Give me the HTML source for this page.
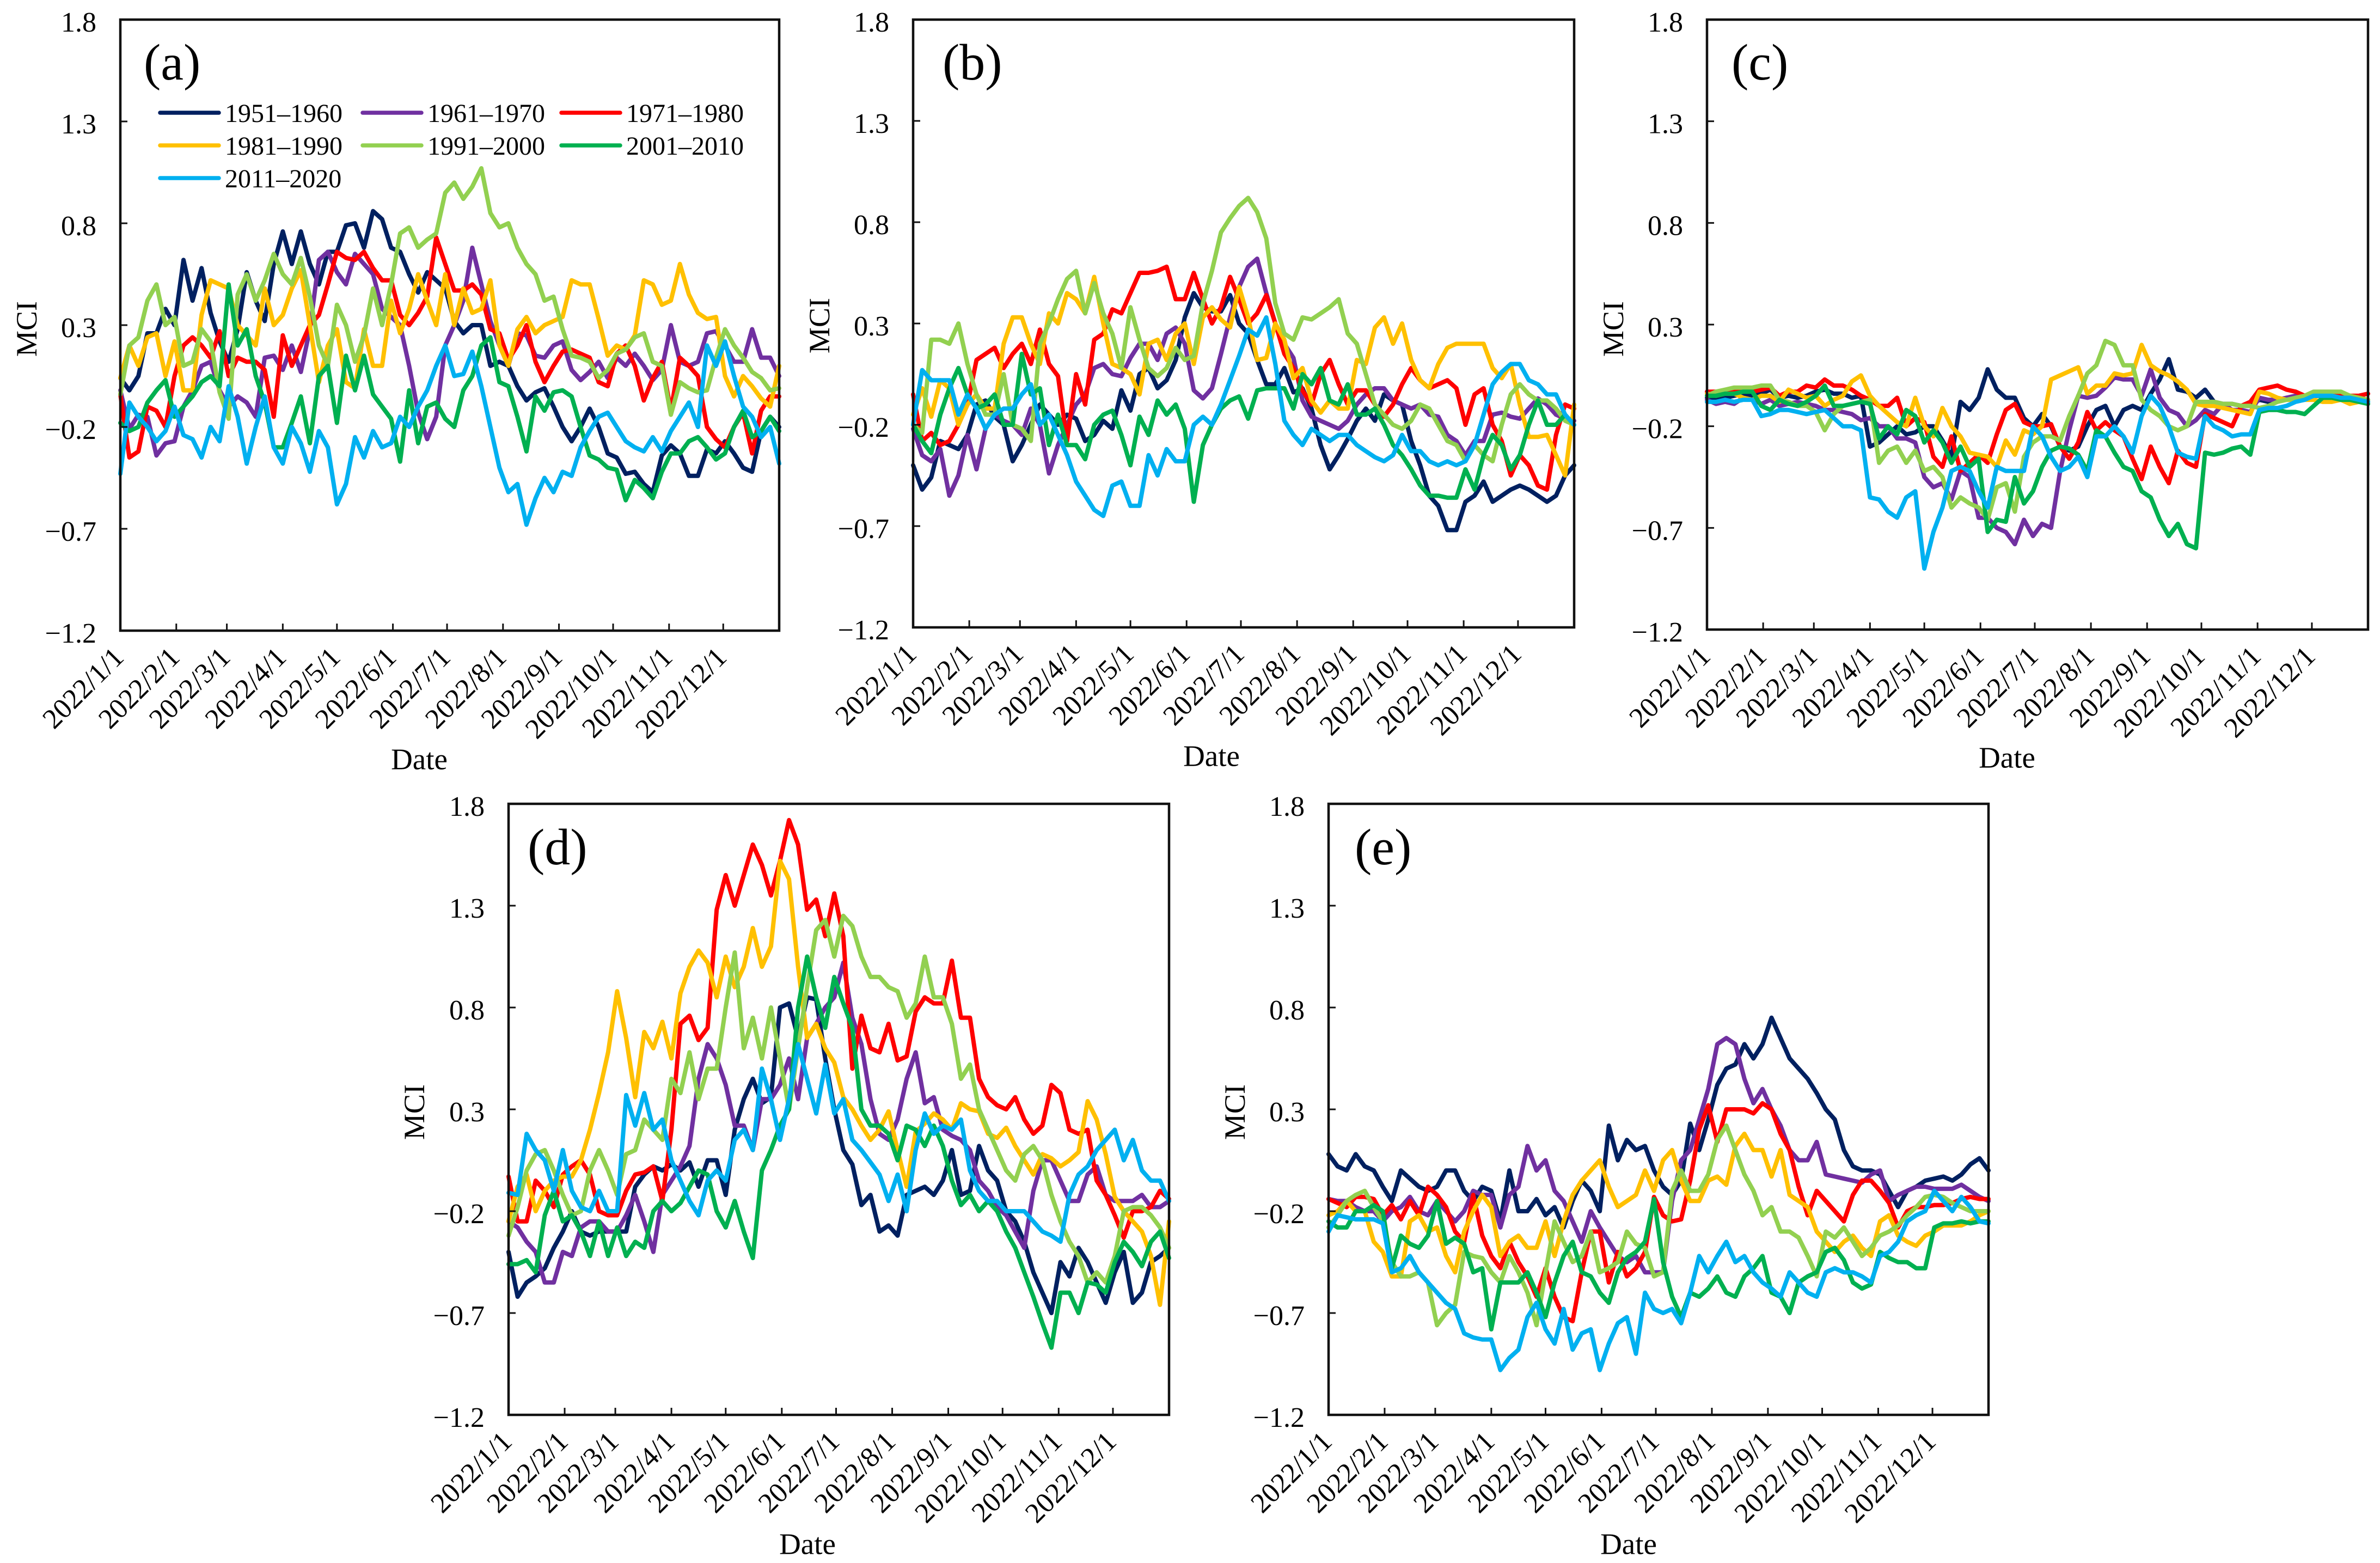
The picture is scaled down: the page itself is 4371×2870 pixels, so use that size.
<!DOCTYPE html>
<html lang="en">
<head>
<meta charset="utf-8">
<title>MCI by decade, panels (a) to (e)</title>
<style>
html,body{margin:0;padding:0;background:#fff;}
svg{display:block;}
text{font-family:"Liberation Serif","Times New Roman",serif;fill:#000;}
</style>
</head>
<body>
<svg id="figure" xmlns="http://www.w3.org/2000/svg" width="4371" height="2870" viewBox="0 0 4371 2870"></svg>
<script>
// Categories and tick labels
const decades = ["1951–1960","1961–1970","1971–1980","1981–1990","1991–2000","2001–2010","2011–2020"];
const seriesColors = ["#002060","#7030A0","#FF0000","#FFC000","#92D050","#00B050","#00B0F0"];
const monthLabels = ["2022/1/1","2022/2/1","2022/3/1","2022/4/1","2022/5/1","2022/6/1","2022/7/1","2022/8/1","2022/9/1","2022/10/1","2022/11/1","2022/12/1"];
const yTickValues = [-1.2,-0.7,-0.2,0.3,0.8,1.3,1.8];
const yTickLabels = ["−1.2","−0.7","−0.2","0.3","0.8","1.3","1.8"];
const DAYS_IN_YEAR = 365;

// Panel (a), values read every 5 days
const a1951 = [.04,-.02,.05,.26,.26,.38,.3,.62,.42,.58,.36,.22,.12,.28,.56,.42,.32,.6,.76,.6,.76,.6,.5,.66,.66,.79,.8,.68,.86,.82,.68,.66,.55,.46,.56,.52,.48,.32,.26,.3,.3,.1,.12,.1,0,-.07,-.03,-.01,-.1,-.2,-.27,-.2,-.11,-.2,-.33,-.35,-.43,-.42,-.48,-.52,-.34,-.29,-.33,-.44,-.44,-.31,-.33,-.27,-.33,-.4,-.42,-.22,-.15,-.2];
const a1961 = [-.02,-.21,-.14,-.15,-.34,-.28,-.27,-.1,-.02,.1,.12,-.02,-.1,-.05,-.08,-.15,.14,.15,.08,.2,.07,.28,.62,.66,.56,.5,.65,.6,.55,.38,.34,.3,.1,-.13,-.26,-.15,.2,.3,.42,.68,.5,.32,.2,.1,.26,.25,.15,.14,.2,.22,.08,.03,.07,.12,.04,.14,.1,.16,.1,.03,.08,.3,.12,.1,.12,.26,.27,.2,.12,.12,.28,.14,.14,.05];
const a1971 = [-.04,-.35,-.32,-.1,-.12,-.2,.05,.2,.24,.2,.14,.27,.05,.14,.12,.12,.08,-.15,.25,.1,.2,.3,.35,.5,.66,.63,.62,.66,.58,.52,.52,.35,.3,.36,.44,.73,.6,.47,.47,.5,.45,.28,.26,.13,.2,.3,.12,.02,.1,.17,.18,.16,.14,.02,0,.16,.2,.1,-.07,.04,.12,-.12,.14,.1,.05,-.2,-.26,-.3,-.2,-.13,-.33,-.12,-.05,-.05];
const a1981 = [.04,.2,.1,.24,.26,.05,.22,-.02,-.02,.35,.52,.5,.48,.3,.25,.2,.48,.3,.35,.48,.57,.3,.02,.2,.28,.02,-.01,.28,.1,.1,.42,.26,.38,.55,.42,.3,.55,.3,.48,.36,.38,.52,.2,.1,.28,.34,.26,.3,.32,.34,.52,.5,.5,.33,.15,.2,.18,.25,.52,.5,.4,.42,.6,.45,.36,.33,.34,.05,-.05,.05,0,-.06,-.1,.1];
const a1991 = [-.04,.2,.24,.42,.5,.3,.34,.1,.12,.28,.22,-.03,-.16,.45,.55,.42,.52,.65,.55,.5,.63,.44,.2,.1,.4,.3,.12,.25,.48,.3,.5,.75,.78,.68,.72,.75,.95,1,.92,.98,1.07,.85,.78,.8,.68,.6,.55,.42,.44,.28,.15,.14,.12,.04,.08,.16,.18,.24,.26,.12,.1,-.14,.02,-.01,-.03,-.02,.14,.28,.2,.14,.07,.04,-.02,-.01];
const a2001 = [-.18,-.22,-.2,-.08,-.02,.03,-.15,-.1,-.05,.02,.05,0,.5,.2,.28,.05,-.08,-.3,-.3,-.18,-.05,-.28,.05,.1,-.18,.15,-.02,.15,-.04,-.1,-.16,-.37,-.02,-.28,-.1,-.08,-.16,-.2,-.02,.05,.2,.24,.02,0,-.15,-.32,-.05,-.12,-.03,-.02,-.05,-.2,-.34,-.36,-.4,-.41,-.56,-.46,-.5,-.55,-.42,-.33,-.33,-.27,-.25,-.3,-.36,-.33,-.2,-.12,-.25,-.22,-.15,-.22];
const a2011 = [-.43,-.08,-.15,-.2,-.27,-.22,-.1,-.24,-.26,-.35,-.2,-.27,0,-.15,-.38,-.2,-.05,-.3,-.38,-.2,-.28,-.42,-.22,-.3,-.58,-.48,-.25,-.35,-.22,-.3,-.28,-.15,-.2,-.1,-.02,.1,.2,.05,.06,.17,0,-.2,-.4,-.52,-.48,-.68,-.55,-.45,-.52,-.42,-.44,-.3,-.22,-.15,-.13,-.2,-.27,-.3,-.32,-.25,-.32,-.22,-.15,-.08,-.2,.2,.1,.22,.05,-.1,-.15,-.25,-.2,-.38];

// Panel (b)
const b1951 = [-.4,-.52,-.46,-.28,-.3,-.32,-.25,-.1,-.08,-.16,-.2,-.38,-.3,-.2,-.1,-.15,-.2,-.15,-.17,-.28,-.25,-.18,-.22,-.03,-.13,.05,.08,-.02,.02,.12,.33,.45,.38,.36,.36,.44,.3,.25,.12,0,0,.08,-.04,-.02,-.12,-.3,-.42,-.35,-.27,-.18,-.12,-.18,-.05,-.08,-.1,-.28,-.4,-.55,-.6,-.72,-.72,-.58,-.55,-.48,-.58,-.55,-.52,-.5,-.52,-.55,-.58,-.55,-.45,-.4];
const b1961 = [-.22,-.35,-.38,-.32,-.55,-.45,-.25,-.42,-.22,-.15,-.18,-.2,-.25,-.12,-.2,-.44,-.3,-.2,-.1,-.05,.08,.1,.05,.04,.13,.2,.2,.12,.25,.28,.2,-.03,-.07,-.02,.15,.33,.48,.58,.62,.45,.3,.2,.13,-.08,-.16,-.18,-.2,-.22,-.18,-.1,-.05,-.02,-.02,-.08,-.1,-.12,-.1,-.15,-.16,-.25,-.28,-.35,-.28,-.28,-.15,-.14,-.16,-.17,-.12,-.07,-.1,-.15,-.17,-.18];
const b1971 = [-.05,-.28,-.24,-.3,-.28,-.2,-.1,.12,.15,.18,.08,.15,.2,.1,.27,.1,.04,-.28,.05,-.1,.22,.25,.37,.35,.45,.55,.55,.56,.58,.42,.42,.55,.42,.3,.38,.53,.42,.3,.35,.44,.3,.15,.08,-.03,-.1,.05,.12,0,-.1,-.03,-.03,-.1,-.16,-.1,0,.08,.02,-.02,0,.02,-.02,-.2,-.05,-.02,-.2,-.28,-.45,-.35,-.4,-.5,-.52,-.25,-.1,-.12];
const b1981 = [-.15,-.02,-.16,.02,-.02,-.2,-.1,-.05,-.12,-.12,.2,.33,.33,.2,.1,.35,.3,.45,.42,.35,.53,.3,.1,.08,.05,-.05,.2,.22,.12,.25,.3,.1,.33,.38,.32,.28,.48,.33,.12,.13,.3,.22,.03,.08,-.08,-.14,-.08,-.12,-.12,.12,.1,.28,.33,.2,.3,.12,.02,-.02,.1,.18,.2,.2,.2,.2,.08,.03,.1,-.1,-.26,-.26,-.25,-.35,-.45,-.1];
const b1991 = [-.2,-.24,.22,.22,.2,.3,.1,-.05,-.15,-.15,.05,-.2,-.22,-.28,.2,.3,.42,.52,.56,.35,.5,.35,.25,.08,.38,.22,.08,.04,.08,.18,.12,.14,.4,.56,.75,.82,.88,.92,.85,.72,.4,.25,.22,.33,.32,.35,.38,.42,.25,.2,.05,-.1,-.15,-.2,-.22,-.18,-.1,-.12,-.2,-.28,-.3,-.38,-.3,-.35,-.38,-.2,-.05,0,-.05,-.08,-.08,-.12,-.18,-.2];
const b2001 = [-.2,-.28,-.34,-.15,-.02,.08,-.05,-.12,-.1,-.05,-.2,-.2,.15,-.05,-.02,-.3,-.15,-.3,-.3,-.37,-.2,-.15,-.13,-.25,-.4,-.16,-.25,-.08,-.15,-.1,-.22,-.58,-.3,-.2,-.12,-.08,-.06,-.17,-.03,-.02,-.02,-.02,-.12,.05,0,.08,-.08,-.1,0,-.15,-.15,-.12,-.2,-.3,-.35,-.42,-.5,-.55,-.55,-.56,-.56,-.42,-.52,-.35,-.25,-.3,-.42,-.35,-.2,-.08,-.2,-.2,-.15,-.2];
const b2011 = [-.2,.07,.02,.02,.02,-.15,-.05,-.12,-.22,-.15,-.12,-.12,-.05,0,-.2,-.15,-.25,-.35,-.48,-.55,-.62,-.65,-.5,-.48,-.6,-.6,-.35,-.45,-.32,-.38,-.38,-.2,-.16,-.2,-.1,.02,.14,.27,.24,.33,.1,-.18,-.25,-.3,-.22,-.25,-.28,-.25,-.25,-.3,-.33,-.36,-.38,-.35,-.25,-.33,-.33,-.38,-.4,-.38,-.4,-.38,-.3,-.15,0,.06,.1,.1,.02,0,-.05,-.05,-.15,-.2];

// Panel (c)
const c1951 = [-.06,-.07,-.06,-.05,-.04,-.05,-.04,-.02,-.06,-.05,-.06,-.05,-.03,-.02,-.04,-.04,-.06,-.05,-.3,-.28,-.24,-.2,-.24,-.23,-.2,-.2,-.27,-.35,-.08,-.12,-.06,.08,-.02,-.06,-.06,-.16,-.2,-.14,-.2,-.3,-.32,-.3,-.2,-.12,-.1,-.2,-.12,-.1,-.12,-.04,.03,.13,-.02,-.03,-.06,-.02,-.08,-.09,-.09,-.1,-.1,-.07,-.08,-.08,-.06,-.06,-.05,-.05,-.05,-.06,-.06,-.07,-.07,-.07];
const c1961 = [-.07,-.09,-.08,-.09,-.06,-.07,-.09,-.07,-.1,-.09,-.08,-.09,-.1,-.12,-.12,-.13,-.14,-.17,-.16,-.2,-.2,-.26,-.26,-.28,-.45,-.5,-.48,-.56,-.42,-.45,-.65,-.65,-.7,-.72,-.78,-.66,-.74,-.68,-.7,-.42,-.22,-.05,-.06,-.05,-.01,.04,.03,.03,-.05,.08,-.06,-.12,-.14,-.2,-.17,-.12,-.14,-.09,-.12,-.12,-.13,-.06,-.07,-.07,-.06,-.05,-.06,-.05,-.05,-.06,-.07,-.07,-.08,-.08];
const c1971 = [-.03,-.03,-.03,-.02,-.02,-.03,-.02,-.01,-.05,-.03,-.03,0,-.01,.03,0,0,-.02,-.05,-.07,-.1,-.1,-.06,-.2,-.16,-.18,-.35,-.4,-.25,-.42,-.38,-.34,-.38,-.24,-.12,-.09,-.18,-.2,-.2,-.19,-.3,-.36,-.28,-.13,-.22,-.18,-.22,-.25,-.36,-.46,-.3,-.4,-.48,-.32,-.38,-.4,-.14,-.16,-.18,-.2,-.1,-.08,-.02,-.01,0,-.02,-.03,-.05,-.05,-.05,-.05,-.04,-.05,-.05,-.04];
const c1981 = [-.04,-.05,-.04,-.04,-.06,-.07,-.05,-.05,-.08,-.02,-.04,-.06,-.05,-.1,-.07,-.05,.02,.05,-.05,-.1,-.14,-.18,-.2,-.06,-.2,-.25,-.11,-.2,-.25,-.33,-.34,-.35,-.4,-.27,-.34,-.22,-.24,-.2,.03,.05,.07,.09,-.04,0,0,.06,.05,.06,.2,.1,.07,.05,.02,-.02,-.09,-.1,-.1,-.11,-.12,-.13,-.14,-.03,-.04,-.06,-.07,-.07,-.07,-.07,-.08,-.08,-.07,-.09,-.08,-.08];
const c1991 = [-.05,-.03,-.02,-.01,-.01,-.01,0,0,-.07,-.08,-.1,-.1,-.13,-.22,-.14,-.1,-.09,-.08,-.07,-.38,-.32,-.3,-.38,-.32,-.42,-.4,-.45,-.6,-.55,-.58,-.6,-.66,-.5,-.48,-.62,-.35,-.28,-.25,-.25,-.27,-.15,-.05,.06,.1,.22,.2,.1,.1,-.07,-.12,-.15,-.2,-.22,-.2,-.08,-.08,-.08,-.09,-.09,-.1,-.1,-.11,-.1,-.08,-.07,-.06,-.05,-.03,-.03,-.03,-.03,-.05,-.06,-.07];
const c2001 = [-.05,-.05,-.04,-.04,-.03,-.03,-.1,-.12,-.07,-.09,-.1,-.08,-.05,0,-.1,-.1,-.09,-.08,-.09,-.26,-.2,-.24,-.12,-.15,-.28,-.22,-.28,-.38,-.3,-.4,-.36,-.72,-.66,-.67,-.45,-.58,-.52,-.4,-.32,-.3,-.31,-.34,-.42,-.22,-.25,-.33,-.4,-.42,-.52,-.55,-.66,-.74,-.68,-.78,-.8,-.33,-.34,-.33,-.31,-.3,-.34,-.13,-.12,-.12,-.13,-.13,-.14,-.1,-.06,-.06,-.07,-.07,-.08,-.09];
const c2011 = [-.08,-.08,-.07,-.08,-.07,-.07,-.15,-.14,-.12,-.12,-.13,-.14,-.13,-.12,-.16,-.2,-.2,-.22,-.55,-.56,-.62,-.65,-.55,-.52,-.9,-.72,-.6,-.42,-.4,-.42,-.52,-.6,-.4,-.42,-.42,-.42,-.2,-.25,-.35,-.42,-.4,-.35,-.45,-.25,-.25,-.2,-.25,-.33,-.15,-.05,-.1,-.2,-.33,-.35,-.36,-.15,-.2,-.22,-.25,-.24,-.24,-.12,-.11,-.11,-.1,-.08,-.07,-.05,-.05,-.05,-.06,-.06,-.07,-.08];

// Panel (d)
const d1951 = [-.4,-.62,-.55,-.52,-.48,-.38,-.3,-.2,-.3,-.32,-.3,-.3,-.3,-.3,-.08,-.02,.02,0,.03,0,.04,-.08,.05,.05,-.12,.2,.35,.45,.33,.36,.8,.82,.65,.85,.84,.55,.3,.1,.03,-.17,-.12,-.3,-.27,-.32,-.12,-.1,-.08,-.12,-.05,.1,-.12,-.1,.12,0,-.05,-.2,-.25,-.35,-.5,-.6,-.7,-.45,-.52,-.38,-.45,-.55,-.65,-.5,-.4,-.65,-.6,-.45,-.42,-.38];
const d1961 = [-.25,-.28,-.35,-.4,-.55,-.55,-.4,-.42,-.28,-.25,-.25,-.3,-.3,-.22,-.12,-.25,-.4,-.12,-.05,.02,.12,.45,.62,.55,.42,.22,.22,.1,.35,.35,.42,.55,.35,.65,.72,.8,.85,1.02,.75,.62,.35,.18,.15,.25,.45,.58,.33,.36,.2,.17,.15,.1,-.05,-.1,-.18,-.22,-.3,-.38,-.1,.05,.05,-.05,-.15,-.15,-.02,.02,-.12,-.15,-.15,-.15,-.12,-.18,-.18,-.15];
const d1971 = [-.03,-.25,-.25,-.05,-.1,-.18,-.02,.02,.05,-.02,-.2,-.22,-.22,-.1,-.02,-.01,.02,-.15,.2,.72,.76,.64,.7,1.28,1.45,1.3,1.45,1.6,1.5,1.35,1.52,1.72,1.6,1.28,1.33,1.15,1.36,1.15,.5,.76,.6,.58,.72,.54,.56,.78,.85,.82,.82,1.03,.75,.75,.45,.36,.32,.3,.36,.25,.18,.22,.42,.38,.2,.18,.2,-.05,-.12,-.22,-.33,-.2,-.2,-.18,-.1,-.14];
const d1981 = [-.25,-.08,-.02,-.2,-.1,-.05,-.03,-.03,.05,.2,.38,.58,.88,.65,.36,.68,.6,.73,.55,.87,1,1.08,1.02,.85,1.05,.9,1,1.19,1,1.1,1.52,1.43,1,.65,.72,.6,.53,.36,.3,.22,.15,.2,.29,.1,-.08,.19,.23,.28,.25,.2,.33,.3,.29,.18,.16,.21,.12,.05,-.02,.08,.06,.02,.05,.09,.34,.25,.08,-.13,-.2,-.25,-.3,-.42,-.66,-.25];
const d1991 = [-.32,-.18,0,.08,.1,0,-.12,-.22,-.2,0,.1,0,-.12,.08,.1,.25,.2,.15,.45,.38,.58,.35,.5,.5,.8,1.07,.6,.75,.55,.8,.55,.3,.6,.9,1.18,1.23,1.05,1.25,1.2,1.05,.95,.95,.9,.88,.75,.82,1.05,.85,.85,.72,.45,.52,.3,.2,.1,0,-.05,.08,.12,.05,-.12,-.25,-.35,-.42,-.55,-.5,-.55,-.42,-.2,-.18,-.18,-.22,-.28,-.38];
const d2001 = [-.46,-.46,-.44,-.5,-.22,-.1,-.25,-.22,-.3,-.42,-.25,-.42,-.28,-.42,-.35,-.38,-.2,-.15,-.2,-.16,-.08,0,-.02,-.2,-.28,-.15,-.3,-.43,0,.1,.22,.3,.8,1.05,.85,.7,.95,.82,.7,.3,.22,.22,.18,.05,.22,.2,.12,.22,.12,-.05,-.17,-.12,-.2,-.15,-.2,-.3,-.38,-.5,-.62,-.75,-.87,-.6,-.6,-.7,-.55,-.56,-.6,-.45,-.35,-.4,-.47,-.35,-.3,-.43];
const d2011 = [-.11,-.12,.18,.1,.05,-.1,.1,-.1,-.18,-.2,-.1,-.2,-.2,.37,.22,.38,.2,.25,.05,-.05,-.15,-.22,-.05,0,-.05,.15,.2,.1,.5,.35,.15,.35,.62,.45,.28,.52,.28,.35,.15,.1,.04,-.02,-.15,-.02,-.2,.1,.28,.18,.22,.2,.25,0,-.1,-.15,-.15,-.2,-.2,-.2,-.25,-.3,-.32,-.35,-.12,-.02,.02,.1,.15,.2,.05,.15,0,-.05,-.05,-.15];

// Panel (e)
const e1951 = [.08,.02,0,.08,.02,0,-.08,-.15,0,-.04,-.08,-.1,-.08,0,0,-.1,-.15,-.08,-.1,-.25,0,-.2,-.2,-.14,-.22,-.18,-.28,-.15,-.05,-.1,-.2,.22,.05,.15,.1,.12,0,-.08,-.12,-.05,.23,.1,.25,.42,.5,.52,.62,.55,.62,.75,.65,.55,.5,.45,.38,.3,.25,.1,.02,0,0,-.02,-.1,-.18,-.1,-.08,-.05,-.04,-.03,-.05,-.02,.03,.06,0];
const e1961 = [-.14,-.15,-.15,-.18,-.2,-.2,-.25,-.2,-.18,-.13,-.2,-.22,-.15,-.2,-.25,-.2,-.1,-.12,-.12,-.28,-.12,-.08,.12,0,.05,-.1,-.15,-.25,-.35,-.2,-.28,-.35,-.42,-.45,-.42,-.5,-.5,-.5,-.15,.05,.1,.25,.4,.62,.65,.62,.45,.33,.4,.3,.22,.1,.05,.05,.14,-.02,-.03,-.04,-.05,-.06,-.02,0,-.15,-.12,-.1,-.08,-.08,-.09,-.09,-.09,-.07,-.1,-.13,-.15];
const e1971 = [-.14,-.16,-.18,-.13,-.13,-.14,-.22,-.17,-.24,-.15,-.22,-.08,-.12,-.18,-.3,-.35,-.12,-.32,-.42,-.48,-.35,-.45,-.52,-.62,-.48,-.62,-.72,-.74,-.5,-.3,-.3,-.55,-.4,-.52,-.48,-.4,-.13,-.22,-.25,-.24,-.05,.2,.32,.14,.3,.3,.3,.28,.33,.3,.18,.1,-.08,-.22,-.1,-.15,-.2,-.25,-.12,-.05,-.05,-.1,-.16,-.28,-.2,-.18,-.18,-.17,-.17,-.16,-.14,-.13,-.14,-.14];
const e1981 = [-.22,-.2,-.15,-.2,-.2,-.35,-.4,-.52,-.52,-.25,-.22,-.3,-.28,-.42,-.5,-.3,-.2,-.12,-.18,-.42,-.35,-.32,-.38,-.38,-.25,-.42,-.25,-.12,-.05,0,.05,-.08,-.18,-.15,-.12,0,-.1,.05,.1,-.05,-.15,-.15,-.05,-.03,-.07,.12,.18,.1,.1,-.03,.1,-.12,-.15,-.18,-.3,-.35,-.4,-.35,-.32,-.38,-.42,-.25,-.22,-.32,-.35,-.37,-.32,-.3,-.27,-.27,-.27,-.25,-.22,-.2];
const e1991 = [-.28,-.22,-.15,-.12,-.1,-.18,-.25,-.45,-.52,-.52,-.5,-.55,-.76,-.7,-.66,-.4,-.42,-.43,-.5,-.55,-.42,-.5,-.6,-.76,-.5,-.25,-.35,-.45,-.42,-.3,-.5,-.48,-.45,-.3,-.36,-.38,-.52,-.5,-.1,0,-.1,-.1,-.02,.15,.22,.1,-.02,-.1,-.22,-.18,-.3,-.3,-.33,-.42,-.52,-.3,-.33,-.28,-.35,-.42,-.38,-.32,-.3,-.27,-.22,-.18,-.13,-.12,-.13,-.16,-.18,-.2,-.2,-.2];
const e2001 = [-.25,-.28,-.28,-.2,-.2,-.17,-.2,-.48,-.32,-.36,-.38,-.32,-.15,-.36,-.33,-.36,-.5,-.48,-.78,-.55,-.55,-.55,-.5,-.6,-.72,-.55,-.42,-.35,-.5,-.52,-.6,-.65,-.5,-.43,-.4,-.35,-.14,-.45,-.62,-.72,-.6,-.62,-.58,-.52,-.6,-.62,-.52,-.48,-.42,-.6,-.62,-.7,-.55,-.52,-.5,-.4,-.38,-.44,-.55,-.58,-.56,-.4,-.43,-.45,-.45,-.48,-.48,-.28,-.26,-.26,-.25,-.26,-.25,-.25];
const e2011 = [-.3,-.22,-.23,-.24,-.24,-.24,-.26,-.5,-.48,-.42,-.5,-.55,-.6,-.65,-.68,-.8,-.82,-.83,-.83,-.98,-.92,-.88,-.72,-.65,-.78,-.85,-.68,-.88,-.8,-.78,-.98,-.85,-.75,-.72,-.9,-.6,-.68,-.7,-.68,-.75,-.6,-.42,-.5,-.42,-.35,-.45,-.42,-.5,-.55,-.58,-.62,-.5,-.55,-.6,-.62,-.5,-.48,-.5,-.5,-.52,-.55,-.42,-.4,-.35,-.25,-.22,-.2,-.1,-.15,-.2,-.13,-.18,-.25,-.26];

const panelSeries = {
  a:[a1951,a1961,a1971,a1981,a1991,a2001,a2011],
  b:[b1951,b1961,b1971,b1981,b1991,b2001,b2011],
  c:[c1951,c1961,c1971,c1981,c1991,c2001,c2011],
  d:[d1951,d1961,d1971,d1981,d1991,d2001,d2011],
  e:[e1951,e1961,e1971,e1981,e1991,e2001,e2011]
};

const SVG_NS = "http://www.w3.org/2000/svg";
const figure = document.getElementById("figure");

function make(tag, parent, attrs, content){
  const el = document.createElementNS(SVG_NS, tag);
  for (const k in attrs) el.setAttribute(k, attrs[k]);
  if (content !== undefined) el.textContent = content;
  parent.appendChild(el);
  return el;
}

function dayOfYear(label){
  const parts = label.split("/").map(Number);
  return Math.round((Date.UTC(parts[0], parts[1]-1, parts[2]) - Date.UTC(parts[0],0,1)) / 86400000);
}

function drawPanel(key, L, R, T, B, titleX, titleBase, yLabelX, yLabelY, dateX, dateY){
  const xScale = d => L + (d / DAYS_IN_YEAR) * (R - L);
  const yScale = v => B - ((v - yTickValues[0]) / (yTickValues[yTickValues.length-1] - yTickValues[0])) * (B - T);

  const panel = make("g", figure, {});
  
  

  panelSeries[key].forEach((values, s) => {
    const pts = values.map((v, i) => xScale(i * DAYS_IN_YEAR / (values.length - 1)).toFixed(1) + "," + yScale(v).toFixed(1)).join(" ");
    const line = make("polyline", panel, {points:pts, fill:"none", stroke:seriesColors[s], "stroke-width":"8", "stroke-linejoin":"round", "stroke-linecap":"round"});
    
    
  });

  const frame = make("rect", panel, {x:L, y:T, width:R-L, height:B-T, fill:"none", stroke:"#111", "stroke-width":"4.5"});
  
  

  yTickValues.forEach((v, i) => {
    const tick = make("line", panel, {x1:L, x2:L+13, y1:yScale(v), y2:yScale(v), stroke:"#111", "stroke-width":"3"});
    
    
    const lab = make("text", panel, {x:L-44, y:yScale(v)+22, "text-anchor":"end", "font-size":"52"}, yTickLabels[i]);
    
    
  });

  monthLabels.forEach(label => {
    const x = xScale(dayOfYear(label));
    const tick = make("line", panel, {x1:x, x2:x, y1:B, y2:B-13, stroke:"#111", "stroke-width":"3"});
    
    
    const ax = x + 9, ay = B + 52;
    const lab = make("text", panel, {x:ax, y:ay, "text-anchor":"end", "font-size":"52", transform:"rotate(-45 "+ax+" "+ay+")"}, label);
    
    
  });

  const title = make("text", panel, {x:titleX, y:titleBase, "font-size":"94"}, "(" + key + ")");
  
  

  const yTitle = make("text", panel, {x:yLabelX, y:yLabelY, "text-anchor":"middle", "font-size":"54", transform:"rotate(-90 "+yLabelX+" "+yLabelY+")", "dominant-baseline":"central"}, "MCI");
  
  

  const xTitle = make("text", panel, {x:dateX, y:dateY, "text-anchor":"middle", "font-size":"55", "dominant-baseline":"central"}, "Date");
  
  
}

drawPanel("a", 221, 1431, 36, 1158, 264, 146, 49, 604, 770, 1394);
drawPanel("b", 1677, 2891, 36, 1152, 1731, 146, 1505, 598, 2225, 1388);
drawPanel("c", 3135, 4349, 36, 1156, 3180, 146, 2963, 604, 3686, 1391);
drawPanel("d", 934, 2147, 1476, 2598, 969, 1587, 761, 2042, 1483, 2835);
drawPanel("e", 2440, 3652, 1476, 2598, 2488, 1587, 2268, 2042, 2991, 2835);

// Legend inside panel (a)
const legend = make("g", figure, {});


decades.forEach((name, i) => {
  const col = i % 3, row = Math.floor(i / 3);
  const lineX = 294 + [0, 372, 737][col];
  const y = 207 + row * 60;
  const swatch = make("line", legend, {x1:lineX, x2:lineX+108, y1:y, y2:y, stroke:seriesColors[i], "stroke-width":"7.5", "stroke-linecap":"round"});
  
  
  const text = make("text", legend, {x:lineX+119, y:y+17, "font-size":"48"}, name);
  
  
});
</script>
</body>
</html>
